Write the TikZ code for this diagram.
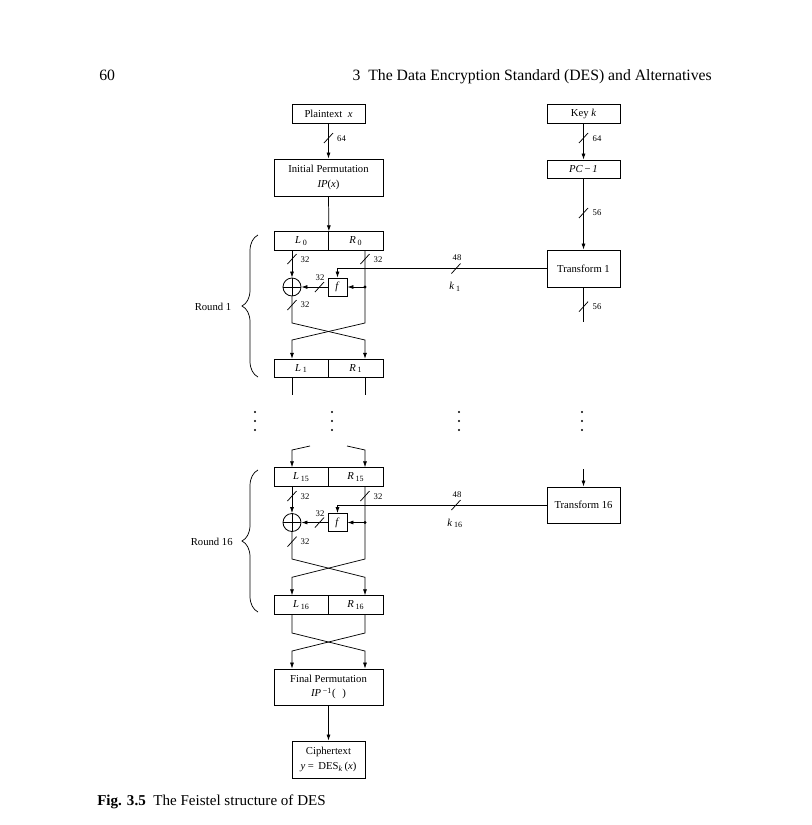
\documentclass[tikz,border=0pt]{standalone}
\usepackage{fontspec}
\setmainfont{Liberation Serif}
\usetikzlibrary{arrows.meta,decorations.pathreplacing,calc}
\tikzset{
  box/.style={draw, line width=0.6pt, inner sep=0pt, align=center, font=\fontsize{8}{11}\selectfont},
  smallbox/.style={box, minimum width=54.75pt, minimum height=14.25pt},
  bigbox/.style={box, minimum width=81.75pt, minimum height=27.75pt},
  tbox/.style={box, minimum width=54.75pt, minimum height=27.75pt},
  halfbox/.style={box, minimum width=40.875pt, minimum height=13.9pt},
  fbox/.style={box, minimum width=14.25pt, minimum height=13.5pt},
  xorc/.style={draw, circle, line width=0.6pt, inner sep=0pt, minimum size=13.5pt},
  wire/.style={line width=0.55pt},
  arr/.style={wire, -{Latex[length=4.5pt,width=3pt]}},
  lbl/.style={font=\fontsize{6.5}{7}\selectfont, inner sep=0pt},
  txt/.style={font=\fontsize{8}{10}\selectfont, inner sep=0pt},
  bitslash/.pic={\draw[line width=0.55pt] (-4.5,5) -- (4.5,-5);},
}
\begin{document}
\begin{tikzpicture}[x=0.75pt,y=-0.75pt]
\useasboundingbox (0,0) rectangle (812,825);
\fill[white] (0,0) rectangle (812,825);

% header
\node[anchor=base west, inner sep=0pt, font=\fontsize{11.8}{14}\selectfont] (pagenum) at (99,80) {60};
\node[anchor=base east, inner sep=0pt, font=\fontsize{11.8}{14}\selectfont] (chap) at (712,80) {3\enspace The Data Encryption Standard (DES) and Alternatives};

% top boxes
\node[smallbox] (plain) at (328.5,114) {Plaintext\ \ \textit{x}};
\node[bigbox] (ip) at (328.5,177.5) {Initial Permutation\\\textit{IP}(\textit{x})};
\node[smallbox] (key) at (583.5,113.5) {Key \textit{k}};
\node[smallbox, minimum height=13.5pt] (pc1) at (583.5,169) {\textit{PC}\,−\,\textit{1}};

% round 1 boxes
\node[halfbox] (L0) at (301.25,241) {\textit{L}\,\textsubscript{0}};
\node[halfbox] (R0) at (355.75,241) {\textit{R}\,\textsubscript{0}};
\node[tbox] (T1) at (583.5,268.5) {Transform 1};
\node[fbox] (f1) at (337.5,287) {\textit{f}};
\node[xorc] (x1) at (292,287) {};
\node[halfbox] (L1) at (301.25,368.5) {\textit{L}\,\textsubscript{1}};
\node[halfbox] (R1) at (355.75,368.5) {\textit{R}\,\textsubscript{1}};

% round 16 boxes
\node[halfbox] (L15) at (301.25,477) {\textit{L}\,\textsubscript{15}};
\node[halfbox] (R15) at (355.75,477) {\textit{R}\,\textsubscript{15}};
\node[tbox, minimum height=27pt] (T16) at (583.5,505) {Transform 16};
\node[fbox] (f16) at (337.5,522.5) {\textit{f}};
\node[xorc] (x16) at (292,522.5) {};
\node[halfbox] (L16) at (301.25,605) {\textit{L}\,\textsubscript{16}};
\node[halfbox] (R16) at (355.75,605) {\textit{R}\,\textsubscript{16}};

% bottom boxes
\node[bigbox, minimum height=27pt] (fin) at (328.5,687) {Final Permutation\\\textit{IP}\,\textsuperscript{−1}(\hspace{5pt})};
\node[tbox] (ciph) at (328.5,759.5) {Ciphertext\\\textit{y} =\ \,DES\textsubscript{\textit{k}}\,(\textit{x})};

% top connections
\draw[arr] (plain) -- (ip);
\pic at (328.5,138) {bitslash};
\node[lbl] (l64a) at (341.5,139) {64};
\draw[arr] (ip.south) -- (L0.north east);
\draw[arr] (key) -- (pc1);
\pic at (583.5,138) {bitslash};
\node[lbl] (l64b) at (597,139) {64};
\draw[arr] (pc1) -- (T1);
\pic at (583.5,213) {bitslash};
\node[lbl] (l56a) at (597,213) {56};
\coordinate (t1end) at (583.5,322);
\draw[wire] (T1) -- (t1end);
\pic at (583.5,306.7) {bitslash};
\node[lbl] (l56b) at (597,306.7) {56};

% round 1 wiring
\coordinate (dot1) at (365,287);
\coordinate (a1) at (292,323);
\coordinate (b1) at (365,323);
\coordinate (c1) at (292,340);
\coordinate (d1) at (365,340);
\draw[arr] (x1.north |- L0.south) -- (x1.north);
\pic at (292,259) {bitslash};
\node[lbl] (l32a) at (305,260) {32};
\pic at (365,259) {bitslash};
\node[lbl] (l32b) at (378,260) {32};
\draw[arr] (T1.west) -| (f1.north);
\pic at (456,268.5) {bitslash};
\node[lbl] (l48a) at (457,258) {48};
\node[txt] (k1) at (455,287) {\textit{k}\,\textsubscript{1}};
\draw[arr] (dot1) -- (f1.east);
\fill (dot1) circle (1.6);
\draw[arr] (f1.west) -- (x1.east);
\pic at (319.5,287) {bitslash};
\node[lbl] (l32c) at (320,278) {32};
\draw[wire] (x1.north) -- (x1.south);
\draw[wire] (x1.west) -- (x1.east);
\draw[arr] (x1.south) -- (a1) -- (d1) -- (d1 |- R1.north);
\draw[arr] (dot1 |- R0.south) -- (b1) -- (c1) -- (c1 |- L1.north);
\pic at (292,305) {bitslash};
\node[lbl] (l32d) at (305,305) {32};
\coordinate (e1) at (292,395);
\coordinate (g1) at (365,395);
\draw[wire] (e1 |- L1.south) -- (e1);
\draw[wire] (g1 |- R1.south) -- (g1);

% brace round 1
\draw[wire, decorate, decoration={brace, amplitude=12pt}] (258,377) -- (258,235);
\node[txt] (rnd1) at (213,306.7) {Round 1};

% vertical dots
\foreach \x in {255,332,459,582} \foreach \y in {412,421,430} \fill (\x,\y) circle (1.2);

% entry to round 16
\coordinate (p15) at (310,446);
\coordinate (q15) at (292,450);
\coordinate (r15) at (347,446);
\coordinate (s15) at (365,450);
\draw[arr] (p15) -- (q15) -- (q15 |- L15.north);
\draw[arr] (r15) -- (s15) -- (s15 |- R15.north);
\coordinate (t16top) at (583.5,469);
\draw[arr] (t16top) -- (T16.north);

% round 16 wiring
\coordinate (dot16) at (365,522.5);
\coordinate (a16) at (292,559);
\coordinate (b16) at (365,559);
\coordinate (c16) at (292,577.3);
\coordinate (d16) at (365,577.3);
\draw[arr] (x16.north |- L15.south) -- (x16.north);
\pic at (292,496) {bitslash};
\node[lbl] (l32e) at (305,497) {32};
\pic at (365,496) {bitslash};
\node[lbl] (l32f) at (378,497) {32};
\draw[arr] (T16.west) -| (f16.north);
\pic at (456,505) {bitslash};
\node[lbl] (l48b) at (457,495) {48};
\node[txt] (k16) at (455,523.3) {\textit{k}\,\textsubscript{16}};
\draw[arr] (dot16) -- (f16.east);
\fill (dot16) circle (1.6);
\draw[arr] (f16.west) -- (x16.east);
\pic at (319.5,522.5) {bitslash};
\node[lbl] (l32g) at (320,514) {32};
\draw[wire] (x16.north) -- (x16.south);
\draw[wire] (x16.west) -- (x16.east);
\draw[arr] (x16.south) -- (a16) -- (d16) -- (d16 |- R16.north);
\draw[arr] (dot16 |- R15.south) -- (b16) -- (c16) -- (c16 |- L16.north);
\pic at (292,541.7) {bitslash};
\node[lbl] (l32h) at (305,541.7) {32};

% brace round 16
\draw[wire, decorate, decoration={brace, amplitude=12pt}] (258,612) -- (258,470);
\node[txt] (rnd16) at (211.7,541.7) {Round 16};

% final swap
\coordinate (a17) at (292,633);
\coordinate (b17) at (365,633);
\coordinate (c17) at (292,651);
\coordinate (d17) at (365,651);
\draw[arr] (a17 |- L16.south) -- (a17) -- (d17) -- (d17 |- fin.north);
\draw[arr] (b17 |- R16.south) -- (b17) -- (c17) -- (c17 |- fin.north);
\draw[arr] (fin) -- (ciph);

% caption
\node[anchor=base west, inner sep=0pt, font=\fontsize{11.3}{13}\selectfont] (cap) at (97,805) {\textbf{Fig. 3.5}\enspace The Feistel structure of DES};
\end{tikzpicture}
\end{document}
